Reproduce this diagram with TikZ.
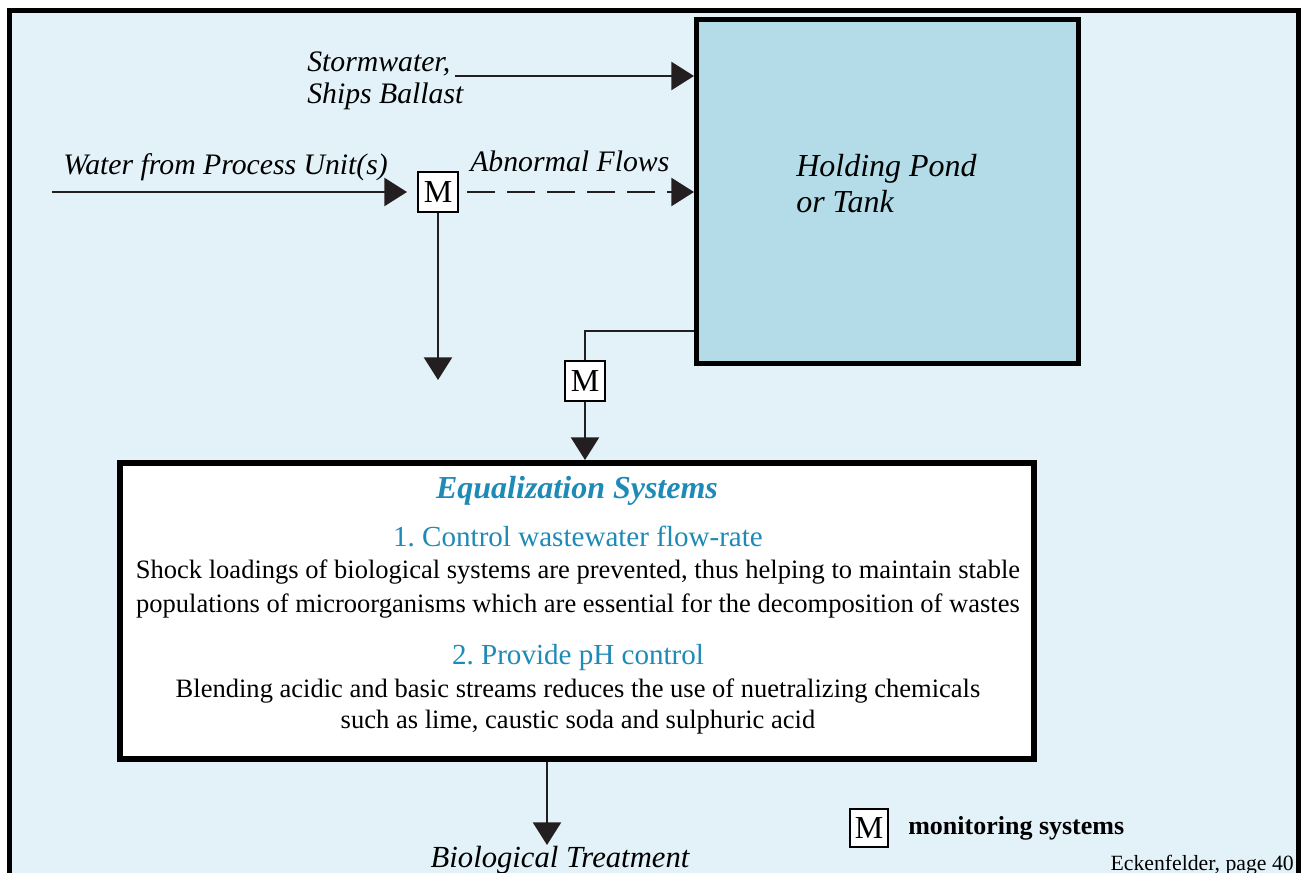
\documentclass[tikz,border=0pt]{standalone}
\usepackage{fontspec}
\setmainfont{Liberation Serif}
\usetikzlibrary{arrows.meta}
\definecolor{bgblue}{HTML}{E3F1F8}
\definecolor{pondblue}{HTML}{B3DCE8}
\definecolor{headblue}{HTML}{1E8AB6}
\definecolor{ink}{HTML}{231F20}
\frenchspacing
\begin{document}
\begin{tikzpicture}[x=0.75pt,y=-0.75pt,
  flow/.style={draw=ink,line width=1.9pt,-{Triangle[length=17pt,width=21pt]}},
  plain/.style={draw=ink,line width=1.9pt},
  mbox/.style={draw=black,fill=white,line width=1.5pt,minimum width=30pt,minimum height=30pt,inner sep=0pt,font=\fontsize{24}{24}\selectfont},
  lbl/.style={inner sep=0pt,font=\fontsize{22.3}{24}\selectfont\itshape},
  body/.style={inner sep=0pt,font=\fontsize{19.9}{22}\selectfont},
  head/.style={inner sep=0pt,text=headblue,font=\fontsize{21.8}{24}\selectfont}]
\useasboundingbox (0,0) rectangle (1302,873);
\clip (0,0) rectangle (1302,873);
\fill[white] (0,0) rectangle (1302,873);
% outer frame
\draw[fill=bgblue,line width=3.6pt] (9.5,10.5) rectangle (1298.5,920);
% holding pond
\node[draw=black,fill=pondblue,line width=3.75pt,minimum width=286.5pt,minimum height=258pt,inner sep=0pt] (pond) at (887.5,191.5) {};
\node[lbl,font=\fontsize{24}{26}\selectfont\itshape,anchor=base west] (pondA) at (796,177) {Holding Pond};
\node[lbl,font=\fontsize{24}{26}\selectfont\itshape,anchor=base west] (pondB) at (796,213) {or Tank};
% equalization box
\node[draw=black,fill=white,line width=4.5pt,minimum width=685.5pt,minimum height=222pt,inner sep=0pt] (eq) at (577,611) {};
\node[inner sep=0pt,text=headblue,font=\fontsize{24}{26}\selectfont\bfseries\itshape,anchor=base] (eqt) at (577,498) {Equalization Systems};
\node[head,anchor=base] (h1) at (578,546) {1. Control wastewater flow-rate};
\node[body,anchor=base] (p1a) at (578,578) {Shock loadings of biological systems are prevented, thus helping to maintain stable};
\node[body,anchor=base] (p1b) at (578,612) {populations of microorganisms which are essential for the decomposition of wastes};
\node[head,anchor=base] (h2) at (578,664) {2. Provide pH control};
\node[body,anchor=base] (p2a) at (578,697) {Blending acidic and basic streams reduces the use of nuetralizing chemicals};
\node[body,anchor=base] (p2b) at (578,728) {such as lime, caustic soda and sulphuric acid};
% monitoring boxes
\node[mbox] (m1) at (438,192) {M};
\node[mbox] (m2) at (585,381) {M};
% labels
\node[lbl,anchor=base west] (storm) at (307,72) {Stormwater,};
\node[lbl,anchor=base west] (ships) at (307,104) {Ships Ballast};
\node[lbl,anchor=base west] (water) at (63,175) {Water from Process Unit(s)};
\node[lbl,anchor=base west] (abn) at (470,172) {Abnormal Flows};
\node[lbl,font=\fontsize{23}{26}\selectfont\itshape,anchor=base] (bio) at (560,867) {Biological Treatment};
% connectors
\coordinate (stormS) at (455,76);
\draw[flow] (stormS) -- (stormS -| pond.west);
\coordinate (waterS) at (52,192);
\draw[flow,shorten >=7.5pt] (waterS) -- (m1.west);
\draw[flow,dash pattern=on 21pt off 9pt,shorten <=6pt] (m1.east) -- (m1.east -| pond.west);
\coordinate (m1end) at (438,380);
\draw[flow] (m1.south) -- (m1end);
\coordinate (outy) at (585,331);
\draw[plain] (pond.west |- outy) -- (outy) -- (m2.north);
\draw[flow] (m2.south) -- (m2.south |- eq.north);
\coordinate (bioS) at (547,762);
\coordinate (bioE) at (547,845);
\draw[flow] (bioS) -- (bioE);
% legend
\node[mbox,minimum width=28.5pt,minimum height=28.5pt] (m3) at (869,828) {M};
\node[inner sep=0pt,font=\fontsize{19.5}{22}\selectfont\bfseries,anchor=base west] (legend) at (908,834) {monitoring systems};
\node[inner sep=0pt,font=\fontsize{16.3}{18}\selectfont,anchor=base east] (eck) at (1294,870) {Eckenfelder, page 40};
\end{tikzpicture}
\end{document}
